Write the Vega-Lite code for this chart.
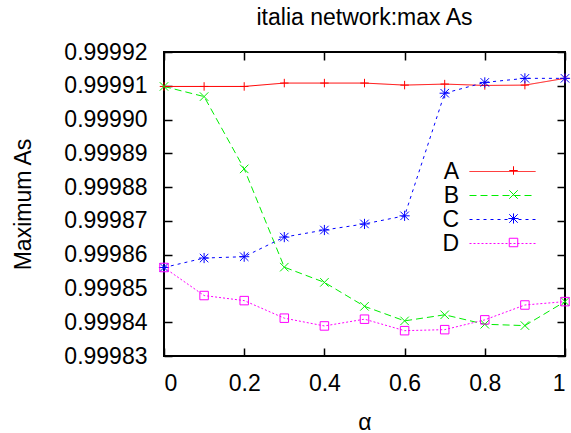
{
  "$schema": "https://vega.github.io/schema/vega-lite/v6.json",
  "autosize": "none",
  "width": 401,
  "height": 304,
  "padding": {"left": 164, "top": 52, "right": 6, "bottom": 77},
  "background": "white",
  "title": {"text": "italia network:max As", "fontSize": 23, "fontWeight": "normal", "font": "Liberation Sans", "color": "black", "offset": 11, "anchor": "middle", "frame": "group"},
  "config": {
    "font": "Liberation Sans",
    "view": {"stroke": "black", "strokeWidth": 2},
    "axis": {"grid": false, "domain": false, "ticks": true, "tickColor": "black", "tickWidth": 1.5, "tickSize": 8, "offset": -8, "labelColor": "black", "titleColor": "black", "labelFontSize": 23, "titleFontSize": 23, "titleFontWeight": "normal", "labelFont": "Liberation Sans", "titleFont": "Liberation Sans"}
  },
  "data": {"values": [
    {"a": 0.0, "s": "A", "v": 0.9999098}, {"a": 0.1, "s": "A", "v": 0.9999098}, {"a": 0.2, "s": "A", "v": 0.9999098},
    {"a": 0.3, "s": "A", "v": 0.9999108}, {"a": 0.4, "s": "A", "v": 0.9999108}, {"a": 0.5, "s": "A", "v": 0.9999108},
    {"a": 0.6, "s": "A", "v": 0.9999102}, {"a": 0.7, "s": "A", "v": 0.9999105}, {"a": 0.8, "s": "A", "v": 0.9999101},
    {"a": 0.9, "s": "A", "v": 0.9999102}, {"a": 1.0, "s": "A", "v": 0.9999122},
    {"a": 0.0, "s": "B", "v": 0.9999098}, {"a": 0.1, "s": "B", "v": 0.9999068}, {"a": 0.2, "s": "B", "v": 0.9998854},
    {"a": 0.3, "s": "B", "v": 0.9998563}, {"a": 0.4, "s": "B", "v": 0.9998518}, {"a": 0.5, "s": "B", "v": 0.9998447},
    {"a": 0.6, "s": "B", "v": 0.9998404}, {"a": 0.7, "s": "B", "v": 0.9998422}, {"a": 0.8, "s": "B", "v": 0.9998394},
    {"a": 0.9, "s": "B", "v": 0.999839}, {"a": 1.0, "s": "B", "v": 0.9998461},
    {"a": 0.0, "s": "C", "v": 0.9998562}, {"a": 0.1, "s": "C", "v": 0.999859}, {"a": 0.2, "s": "C", "v": 0.9998594},
    {"a": 0.3, "s": "C", "v": 0.9998652}, {"a": 0.4, "s": "C", "v": 0.9998673}, {"a": 0.5, "s": "C", "v": 0.9998691},
    {"a": 0.6, "s": "C", "v": 0.9998715}, {"a": 0.7, "s": "C", "v": 0.9999078}, {"a": 0.8, "s": "C", "v": 0.999911},
    {"a": 0.9, "s": "C", "v": 0.9999122}, {"a": 1.0, "s": "C", "v": 0.9999122},
    {"a": 0.0, "s": "D", "v": 0.9998562}, {"a": 0.1, "s": "D", "v": 0.9998479}, {"a": 0.2, "s": "D", "v": 0.9998464},
    {"a": 0.3, "s": "D", "v": 0.9998412}, {"a": 0.4, "s": "D", "v": 0.9998389}, {"a": 0.5, "s": "D", "v": 0.9998409},
    {"a": 0.6, "s": "D", "v": 0.9998375}, {"a": 0.7, "s": "D", "v": 0.9998378}, {"a": 0.8, "s": "D", "v": 0.9998407},
    {"a": 0.9, "s": "D", "v": 0.9998451}, {"a": 1.0, "s": "D", "v": 0.9998461}
  ]},
  "encoding": {
    "x": {"field": "a", "type": "quantitative", "scale": {"domain": [0, 1], "nice": false, "zero": false}},
    "y": {"field": "v", "type": "quantitative", "scale": {"domain": [0.99983, 0.99992], "nice": false, "zero": false}}
  },
  "layer": [
    {
      "mark": {"type": "line", "strokeWidth": 1, "clip": false},
      "encoding": {
        "x": {"field": "a", "type": "quantitative", "title": "α", "axis": {"orient": "bottom", "values": [0, 0.2, 0.4, 0.6, 0.8, 1], "format": "~g", "labelPadding": 16, "titlePadding": 16}},
        "y": {"field": "v", "type": "quantitative", "title": "Maximum As", "axis": {"orient": "left", "values": [0.99983, 0.99984, 0.99985, 0.99986, 0.99987, 0.99988, 0.99989, 0.9999, 0.99991, 0.99992], "format": ".5f", "labelPadding": 17, "titlePadding": 28}},
        "color": {
          "field": "s", "type": "nominal",
          "scale": {"domain": ["A", "B", "C", "D"], "range": ["#ff0000", "#00ee00", "#0000ff", "#ff00ff"]},
          "legend": {
            "title": null, "orient": "none", "legendX": 327, "legendY": 108, "padding": 0,
            "labelFontSize": 23, "labelColor": "black", "labelAlign": "right", "labelOffset": -55,
            "rowPadding": -1, "symbolType": "M-33,0H33", "symbolSize": 4, "symbolStrokeWidth": 1, "symbolFillColor": "transparent",
            "encode": {"symbols": {"update": {"opacity": {"value": 1}}}}
          }
        },
        "strokeDash": {"field": "s", "type": "nominal", "legend": null, "scale": {"domain": ["A", "B", "C", "D"], "range": [[1, 0], [7, 4], [3, 4], [2, 2]]}}
      }
    },
    {
      "mark": {"type": "point", "filled": false, "strokeWidth": 1, "opacity": 1, "size": 72, "clip": false},
      "encoding": {
        "x": {"field": "a", "type": "quantitative", "axis": {"orient": "top", "values": [0, 0.2, 0.4, 0.6, 0.8, 1], "labels": false, "title": null}},
        "y": {"field": "v", "type": "quantitative", "axis": {"orient": "right", "values": [0.99983, 0.99984, 0.99985, 0.99986, 0.99987, 0.99988, 0.99989, 0.9999, 0.99991, 0.99992], "labels": false, "title": null}},
        "stroke": {
          "field": "s", "type": "nominal",
          "scale": {"domain": ["A", "B", "C", "D"], "range": ["#ff0000", "#00ee00", "#0000ff", "#ff00ff"]},
          "legend": {
            "title": null, "orient": "right", "offset": -172, "padding": 107,
            "labelFontSize": 23, "labelExpr": "' '", "rowPadding": -1,
            "symbolSize": 72, "symbolStrokeWidth": 1, "symbolFillColor": "transparent",
            "encode": {"symbols": {"update": {"opacity": {"value": 1}}}}
          }
        },
        "shape": {
          "field": "s", "type": "nominal",
          "scale": {"domain": ["A", "B", "C", "D"], "range": ["M-1,0H1M0,-1V1", "M-1,-1L1,1M-1,1L1,-1", "M-1.2,0H1.2M0,-1.2V1.2M-1,-1L1,1M-1,1L1,-1", "M-1,-1H1V1H-1Z"]},
          "legend": {"title": null, "orient": "right", "offset": -172, "padding": 107, "labelFontSize": 23, "labelExpr": "' '", "rowPadding": -1, "symbolSize": 72}
        }
      }
    }
  ]
}
